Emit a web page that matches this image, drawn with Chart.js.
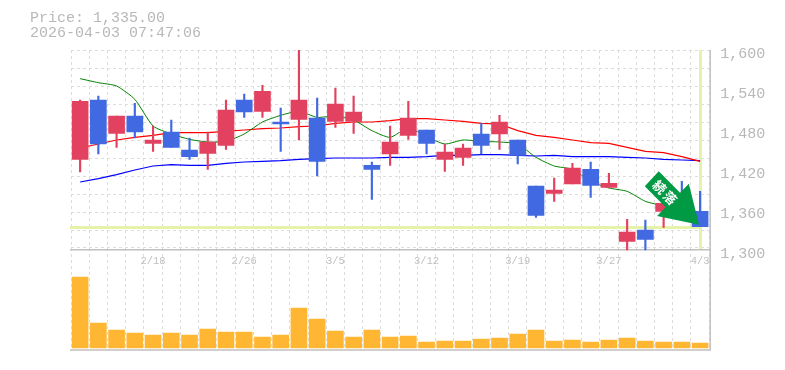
<!DOCTYPE html>
<html>
<head>
<meta charset="utf-8">
<script src="https://cdn.jsdelivr.net/npm/chart.js@4"></script>
<style>
	body { margin: 0; background: #fff; }
	#wrap { position: relative; width: 785px; height: 370px; }
	#head { position: absolute; left: 30px; top: 11px; font: 15px/15px "Liberation Mono", monospace; color: #b8b8b8; white-space: pre; }
</style>
</head>
<body>
<div id="wrap">
	<canvas id="myChart" width="785" height="370"></canvas>
	<div id="head">Price: 1,335.00
2026-04-03 07:47:06</div>
</div>
<script>
const dates = ['2/12','2/13','2/16','2/17','2/18','2/19','2/20','2/24','2/25','2/26','2/27','3/2','3/3','3/4','3/5','3/6','3/9','3/10','3/11','3/12','3/13','3/16','3/17','3/18','3/19','3/23','3/24','3/25','3/26','3/27','3/30','3/31','4/1','4/2','4/3'];
const opens  = [1436,1525,1475,1501,1460,1477,1450,1445,1457,1525,1508,1492,1496,1498,1493,1493,1427,1444,1472,1480,1436,1439,1474,1474,1465,1396,1385,1399,1421,1394,1313,1330,1358,1380,1358];
const highs  = [1525,1531,1501,1520,1486,1495,1468,1477,1525,1534,1547,1513,1600,1528,1543,1531,1432,1486,1523,1480,1459,1459,1490,1502,1465,1396,1408,1430,1432,1415,1346,1345,1372,1403,1388];
const lows   = [1417,1444,1454,1468,1448,1454,1436,1421,1451,1499,1499,1448,1465,1411,1484,1475,1376,1427,1466,1444,1418,1427,1444,1451,1429,1349,1373,1399,1379,1394,1300,1300,1334,1345,1335];
const closes = [1523,1459,1501,1477,1465,1454,1440,1462,1510,1507,1538,1489,1525,1433,1519,1507,1421,1462,1498,1460,1447,1453,1457,1492,1442,1352,1390,1423,1397,1400,1327,1316,1370,1357,1335];
const volumes = [71,25,18,15,13,15,13,19,16,16,11,13,40,29,17,11,18,11,12,6,7,7,9,10,14,18,7,8,6,8,10,7,6,6,5];
const maShort = [1557,1551,1546,1526,1486,1474,1466,1462,1463,1474,1492,1502,1508,1499,1501,1495,1479,1469,1483,1470,1459,1465,1463,1462,1459,1439,1426,1421,1403,1393,1388,1373,1366,1358,1351];
const maMid   = [1453,1459,1465,1469,1472,1476,1476,1476,1478,1480,1482,1483,1485,1486,1490,1492,1492,1494,1497,1497,1495,1493,1490,1489,1479,1472,1469,1465,1461,1460,1454,1448,1446,1440,1433];
const maLong  = [1402,1407,1413,1420,1426,1428,1427,1427,1430,1432,1433,1434,1436,1437,1438,1438,1438,1439,1439,1440,1442,1442,1443,1443,1442,1441,1442,1440,1440,1440,1439,1438,1436,1435,1434];
const priceTicks = [1300,1360,1420,1480,1540,1600];
const gridPrices = [1600,1573,1546,1519,1492,1465,1438,1411,1384,1357,1330,1303];
const lastPrice = 1335;
const signLabel = '続落';

const RED = '#e2425f';
const BLUE = '#4169e1';
const GREY = '#c0c0c0';
const GUIDE = '#e5f3a9';
const MONO = '"Liberation Mono", monospace';

const candleColors = closes.map((c, i) => c >= opens[i] ? RED : BLUE);

// last price cross and outer frame, under the candles
const guides = {
	id: 'guides',
	beforeDatasetsDraw(chart) {
		const { ctx, chartArea, scales } = chart;
		const xLast = Math.round(scales.x.getPixelForValue(dates.length - 1)) + 0.5;
		const yLast = Math.round(scales.y.getPixelForValue(lastPrice)) + 0.5;
		const yBase = scales.y.getPixelForValue(1300);
		ctx.save();
		ctx.strokeStyle = GUIDE;
		ctx.lineWidth = 3;
		ctx.beginPath();
		ctx.moveTo(chartArea.left - 1, yLast);
		ctx.lineTo(xLast, yLast);
		ctx.moveTo(xLast, chartArea.top);
		ctx.lineTo(xLast, yBase - 1);
		ctx.stroke();
		ctx.strokeStyle = GREY;
		ctx.lineWidth = 1.5;
		ctx.beginPath();
		ctx.moveTo(chartArea.right + 1, chartArea.top);
		ctx.lineTo(chartArea.right + 1, chartArea.bottom);
		ctx.lineTo(chartArea.left - 1, chartArea.bottom);
		ctx.stroke();
		ctx.restore();
	}
};

// green sign pointing at the last candle
const arrowShape = [[-40.3,-53.3],[-19,-32],[-10.3,-41],[0,0],[-42,-8.6],[-33.5,-17.5],[-54.3,-38.3]];
const sign = {
	id: 'sign',
	afterDatasetsDraw(chart) {
		const { ctx, scales } = chart;
		const tipX = scales.x.getPixelForValue(dates.length - 1) - 1;
		const tipY = scales.y.getPixelForValue(lastPrice) - 2;
		ctx.save();
		ctx.fillStyle = '#009944';
		ctx.beginPath();
		arrowShape.forEach(p => ctx.lineTo(tipX + p[0], tipY + p[1]));
		ctx.closePath();
		ctx.fill();
		ctx.translate(tipX - 33.5, tipY - 31.5);
		ctx.rotate(Math.PI / 4);
		ctx.fillStyle = '#fff';
		ctx.font = 'bold 13px "Noto Sans CJK JP"';
		ctx.textAlign = 'center';
		ctx.textBaseline = 'middle';
		ctx.letterSpacing = '2px';
		ctx.fillText(signLabel, 0, 0);
		ctx.restore();
	}
};

const ctx = document.getElementById('myChart');

const myChart = new Chart(ctx, {
	type: 'bar',
	data: {
		labels: dates,
		datasets: [
			{ type: 'line', data: maLong, yAxisID: 'y', borderColor: '#0000ff', borderWidth: 1.2, pointRadius: 0, order: 5 },
			{ type: 'line', data: maMid, yAxisID: 'y', borderColor: '#ff0000', borderWidth: 1.2, pointRadius: 0, order: 4 },
			{ type: 'line', data: maShort, yAxisID: 'y', borderColor: '#008000', borderWidth: 1, pointRadius: 0, tension: 0.2, order: 3 },
			{ data: lows.map((l, i) => [l, highs[i]]), yAxisID: 'y', backgroundColor: candleColors, barThickness: 1.5, grouped: false, order: 2 },
			{ data: opens.map((o, i) => [o, closes[i]]), yAxisID: 'y', backgroundColor: candleColors, barThickness: 16, grouped: false, order: 1 },
			{ data: volumes, yAxisID: 'yVol', backgroundColor: '#ffb733', barThickness: 16, grouped: false, order: 1 }
		]
	},
	options: {
		responsive: false,
		animation: false,
		layout: { padding: { left: 71, top: 50, bottom: 20, right: 0 } },
		plugins: { legend: { display: false }, tooltip: { enabled: false }, title: { display: false } },
		scales: {
			x: {
				position: { y: 1300 },
				offset: true,
				border: { color: GREY, width: 1.5, dash: [3, 3] },
				grid: { color: '#dddddd', drawTicks: false, offset: true },
				ticks: {
					autoSkip: false,
					maxRotation: 0,
					padding: 5,
					color: GREY,
					font: { family: MONO, size: 10.5 },
					callback: function(v, i) { return i % 5 === 4 ? dates[i] : ''; }
				}
			},
			y: {
				position: 'right',
				min: 1150,
				max: 1600,
				afterBuildTicks: s => { s.ticks = priceTicks.map(v => ({ value: v })); },
				afterFit: s => { s.width = 75.8; },
				border: { display: false },
				grid: { display: false, drawTicks: false },
				ticks: {
					autoSkip: false,
					padding: 11,
					labelOffset: 4,
					color: '#b8b8b8',
					font: { family: MONO, size: 15 },
					callback: v => v.toLocaleString('en-US')
				}
			},
			yGrid: {
				position: 'right',
				min: 1150,
				max: 1600,
				afterBuildTicks: s => { s.ticks = gridPrices.map(v => ({ value: v })); },
				afterFit: s => { s.width = 0; },
				border: { display: false, dash: [3, 3] },
				grid: { color: '#dddddd', drawTicks: false },
				ticks: { display: false, autoSkip: false }
			},
			yVol: {
				display: false,
				min: -2,
				max: 298
			}
		}
	},
	plugins: [guides, sign]
});
</script>
</body>
</html>
